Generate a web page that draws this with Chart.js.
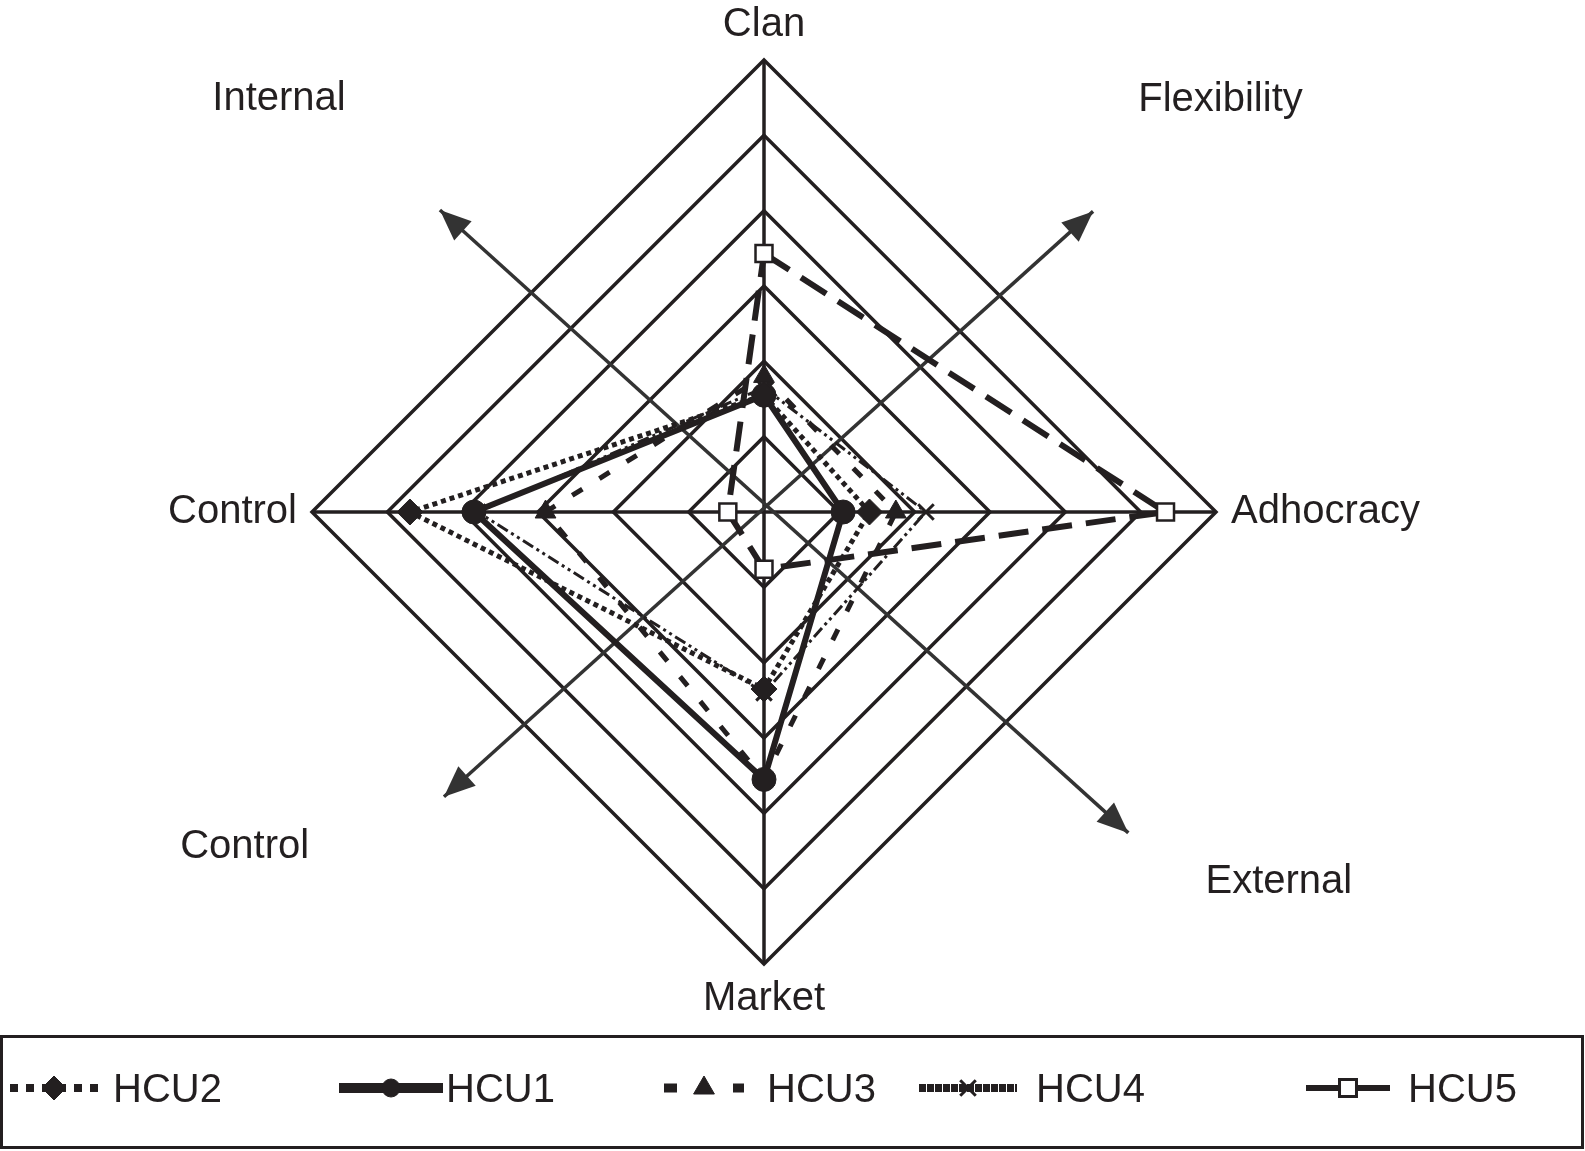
<!DOCTYPE html>
<html>
<head>
<meta charset="utf-8">
<script src="https://cdn.jsdelivr.net/npm/chart.js"></script>
<style>
  html, body { margin: 0; padding: 0; background: #fff; }
  #wrap { position: relative; width: 1585px; height: 1151px; overflow: hidden; }
  #chart { position: absolute; left: 0; top: 0; }
  #legendBox {
    position: absolute; left: 0; top: 1035px; width: 1584px; height: 114px;
    box-sizing: border-box; border: 3px solid #231f20;
  }
  .swatch { position: absolute; top: 1068px; height: 40px; }
  .legendText {
    position: absolute; top: 1068px; height: 40px; line-height: 40px;
    font-family: "Liberation Sans", Arial, sans-serif; font-size: 40px; color: #231f20;
    white-space: nowrap;
  }
</style>
</head>
<body>
<div id="wrap">
  <canvas id="chart" width="1585" height="1036"></canvas>
  <div id="legendBox"></div>
</div>
<script>
// culture types, clockwise from the top
const categories = ['Clan', 'Adhocracy', 'Market', 'Control'];

// scores per unit (Clan, Adhocracy, Market, Control)
const hcu2 = [15.5, 14, 23.5, 47];
const hcu1 = [15.5, 10.5, 35.5, 38.5];
const hcu3 = [18, 17.5, 35.5, 29];
const hcu4 = [16.5, 21.5, 24, 38];
const hcu5 = [34.3, 53.3, 7.6, 4.8];

const seriesNames = ['HCU2', 'HCU1', 'HCU3', 'HCU4', 'HCU5'];
const seriesValues = [hcu2, hcu1, hcu3, hcu4, hcu5];

// axis range
const scaleMin = 0;
const scaleMax = 60;
const scaleStep = 10;

// quadrant annotations
const cornerLabels = ['Internal', 'Flexibility', 'Control', 'External'];

const ink = '#231f20';

// line look of each series in the plot
const lineStyles = [
  { width: 5, dash: [5, 4], point: 'rectRot', radius: 13, pointBorder: 1, pointFill: ink },
  { width: 6, dash: [], point: 'circle', radius: 12, pointBorder: 1, pointFill: ink },
  { width: 5, dash: [12, 20], point: 'triangle', radius: 12, pointBorder: 1, pointFill: ink },
  { width: 3, dash: [12, 4, 3, 4, 3, 4], point: 'crossRot', radius: 11, pointBorder: 3, pointFill: ink },
  { width: 6, dash: [30, 14], point: 'rect', radius: 12, pointBorder: 2.5, pointFill: '#fff' }
];

// legend swatch look (drawn thicker in the key)
const swatchStyles = [
  { width: 8, dash: [8, 8], radius: 12, border: 1 },
  { width: 10, dash: [], radius: 9, border: 1 },
  { width: 9, dash: [13, 56], radius: 12, border: 1 },
  { width: 8, dash: [7, 1], radius: 11, border: 3 },
  { width: 6, dash: [], radius: 12, border: 3 }
];
// legend layout: swatch start/end and text start, in page pixels
const legendSlots = [
  { from: 10, to: 98, text: 113 },
  { from: 339, to: 443, text: 446 },
  { from: 664, to: 744, text: 767 },
  { from: 919, to: 1017, text: 1036 },
  { from: 1306, to: 1390, text: 1408 }
];

// arrow tips and corner labels, as fractions of the radius from the centre
const arrowTips = [
  [[-0.717, -0.668], [0.806, 0.710]],
  [[-0.708, 0.630], [0.728, -0.665]]
];
const cornerSpots = [[-1.073, -0.914], [1.010, -0.912], [-1.149, 0.741], [1.139, 0.819]];

const datasets = seriesNames.map((name, i) => {
  const st = lineStyles[i];
  return {
    label: name,
    data: seriesValues[i],
    fill: false,
    borderColor: ink,
    backgroundColor: 'transparent',
    borderWidth: st.width,
    borderDash: st.dash,
    pointStyle: st.point,
    pointRadius: st.radius,
    pointBorderWidth: st.pointBorder,
    pointBorderColor: ink,
    pointBackgroundColor: st.pointFill,
    tension: 0
  };
});

function drawArrowHead(ctx, tx, ty, fx, fy) {
  const len = Math.hypot(tx - fx, ty - fy);
  const ux = (tx - fx) / len, uy = (ty - fy) / len;
  const bx = tx - ux * 31, by = ty - uy * 31;
  ctx.beginPath();
  ctx.moveTo(tx, ty);
  ctx.lineTo(bx - uy * 13, by + ux * 13);
  ctx.lineTo(bx + uy * 13, by - ux * 13);
  ctx.closePath();
  ctx.fill();
}

const quadrantPlugin = {
  id: 'quadrants',
  beforeDatasetsDraw(chart) {
    const r = chart.scales.r;
    const ctx = chart.ctx;
    const cx = r.xCenter, cy = r.yCenter, rad = r.drawingArea;
    ctx.save();
    ctx.strokeStyle = '#333';
    ctx.fillStyle = '#333';
    ctx.lineWidth = 3.5;
    arrowTips.forEach(([a, b]) => {
      const ax = cx + a[0] * rad, ay = cy + a[1] * rad;
      const bx = cx + b[0] * rad, by = cy + b[1] * rad;
      ctx.beginPath();
      ctx.moveTo(ax, ay);
      ctx.lineTo(bx, by);
      ctx.stroke();
      drawArrowHead(ctx, ax, ay, bx, by);
      drawArrowHead(ctx, bx, by, ax, ay);
    });
    ctx.fillStyle = ink;
    ctx.font = '40px "Liberation Sans", Arial, sans-serif';
    ctx.textAlign = 'center';
    ctx.textBaseline = 'middle';
    cornerLabels.forEach((txt, i) => {
      ctx.fillText(txt, cx + cornerSpots[i][0] * rad, cy + cornerSpots[i][1] * rad);
    });
    ctx.restore();
  }
};

const chart = new Chart(document.getElementById('chart'), {
  type: 'radar',
  data: { labels: categories, datasets: datasets },
  options: {
    responsive: false,
    animation: false,
    devicePixelRatio: 1,
    layout: { padding: { left: 0, right: 57, top: 5, bottom: 17 } },
    plugins: { legend: { display: false }, tooltip: { enabled: false } },
    scales: {
      r: {
        min: scaleMin,
        max: scaleMax,
        ticks: { stepSize: scaleStep, display: false },
        grid: { circular: false, color: ink, lineWidth: 3.5 },
        angleLines: { display: true, color: ink, lineWidth: 3.5 },
        pointLabels: {
          color: ink,
          padding: 15,
          font: { family: '"Liberation Sans", Arial, sans-serif', size: 40, lineHeight: 1 }
        }
      }
    }
  },
  plugins: [quadrantPlugin]
});

// key below the plot, built from the chart's datasets
const wrap = document.getElementById('wrap');
chart.data.datasets.forEach((ds, i) => {
  const slot = legendSlots[i];
  const sw = swatchStyles[i];
  const c = document.createElement('canvas');
  const w = slot.to - slot.from;
  c.width = w;
  c.height = 40;
  c.className = 'swatch';
  c.style.left = slot.from + 'px';
  const g = c.getContext('2d');
  g.strokeStyle = ink;
  g.lineWidth = sw.width;
  g.setLineDash(sw.dash);
  g.beginPath();
  g.moveTo(0, 20);
  g.lineTo(w, 20);
  g.stroke();
  g.setLineDash([]);
  g.fillStyle = ds.pointBackgroundColor;
  g.lineWidth = sw.border;
  Chart.helpers.drawPoint(g, { pointStyle: ds.pointStyle, radius: sw.radius, rotation: 0, borderWidth: sw.border }, w / 2, 20);
  wrap.appendChild(c);

  const t = document.createElement('div');
  t.className = 'legendText';
  t.style.left = slot.text + 'px';
  t.textContent = ds.label;
  wrap.appendChild(t);
});
</script>
</body>
</html>
